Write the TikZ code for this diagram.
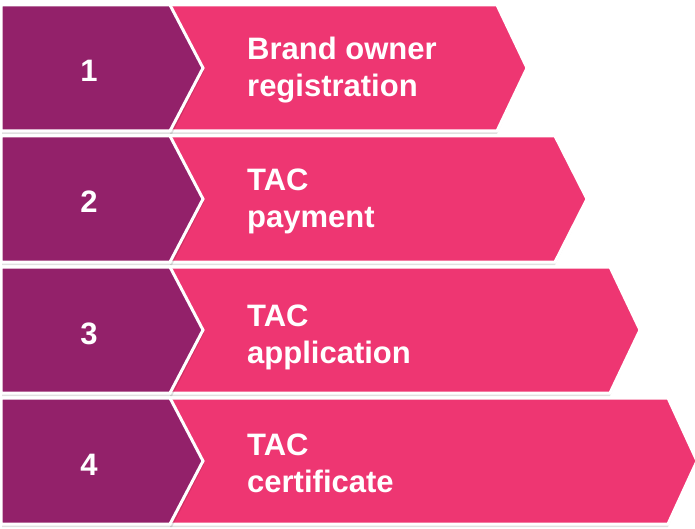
\documentclass[tikz,border=0pt]{standalone}
\usepackage{fontspec}
\setmainfont{Liberation Sans}
\usepackage{xcolor}
\usepackage{tikz}

\definecolor{stepplum}{HTML}{93216A}
\definecolor{steppink}{HTML}{EE3672}

\tikzset{
  pinkarrow/.style={fill=steppink, draw=white, line width=3pt, line join=miter},
  plumarrow/.style={fill=stepplum, draw=white, line width=3pt, line join=miter},
  dropshadow/.style={fill=black, opacity=0.12},
  numlabel/.style={text=white, anchor=base, inner sep=0pt,
    font=\bfseries\fontsize{31}{37}\selectfont},
  steplabel/.style={text=white, anchor=base west, align=left, inner sep=0pt,
    font=\bfseries\fontsize{31}{37}\selectfont}
}

\begin{document}
\begin{tikzpicture}[x=1pt, y=-1pt]
    \useasboundingbox (0, 0) rectangle (695, 529);

    % Pink arrows
    \fill [dropshadow] (170, 8) -- (497, 8) -- (526, 71) -- (497, 134) -- (170, 134) -- cycle;
    \draw [pinkarrow] (170, 5) -- (497, 5) -- (527, 68) -- (497, 131) -- (170, 131) -- cycle;
    \fill [dropshadow] (170, 139) -- (555, 139) -- (586, 202) -- (555, 265) -- (170, 265) -- cycle;
    \draw [pinkarrow] (170, 136) -- (555, 136) -- (587, 199) -- (555, 262) -- (170, 262) -- cycle;
    \fill [dropshadow] (170, 270) -- (610, 270) -- (639, 333) -- (610, 396) -- (170, 396) -- cycle;
    \draw [pinkarrow] (170, 267) -- (610, 267) -- (640, 330) -- (610, 393) -- (170, 393) -- cycle;
    \fill [dropshadow] (170, 401) -- (668, 401) -- (696, 464) -- (668, 527) -- (170, 527) -- cycle;
    \draw [pinkarrow] (170, 398) -- (668, 398) -- (697, 461) -- (668, 524) -- (170, 524) -- cycle;

    % Plum arrows
    \fill [dropshadow] (2, 8) -- (172, 8) -- (204, 71) -- (172, 134) -- (2, 134) -- cycle;
    \draw [plumarrow] (1, 5) -- (170, 5) -- (203, 68) -- (170, 131) -- (1, 131) -- cycle;
    \fill [dropshadow] (2, 139) -- (172, 139) -- (204, 202) -- (172, 265) -- (2, 265) -- cycle;
    \draw [plumarrow] (1, 136) -- (170, 136) -- (203, 199) -- (170, 262) -- (1, 262) -- cycle;
    \fill [dropshadow] (2, 270) -- (172, 270) -- (204, 333) -- (172, 396) -- (2, 396) -- cycle;
    \draw [plumarrow] (1, 267) -- (170, 267) -- (203, 330) -- (170, 393) -- (1, 393) -- cycle;
    \fill [dropshadow] (2, 401) -- (172, 401) -- (204, 464) -- (172, 527) -- (2, 527) -- cycle;
    \draw [plumarrow] (1, 398) -- (170, 398) -- (203, 461) -- (170, 524) -- (1, 524) -- cycle;

    % Step numbers
    \node [numlabel] (num1) at (89, 82) {1};
    \node [numlabel] (num2) at (89, 213) {2};
    \node [numlabel] (num3) at (89, 344) {3};
    \node [numlabel] (num4) at (89, 475) {4};

    % Step texts (base anchor sits on the last line)
    \node [steplabel] (step1) at (247, 97) {Brand owner\\registration};
    \node [steplabel] (step2) at (247, 228) {TAC\\payment};
    \node [steplabel] (step3) at (247, 363) {TAC\\application};
    \node [steplabel] (step4) at (247, 492) {TAC\\certificate};
\end{tikzpicture}
\end{document}
